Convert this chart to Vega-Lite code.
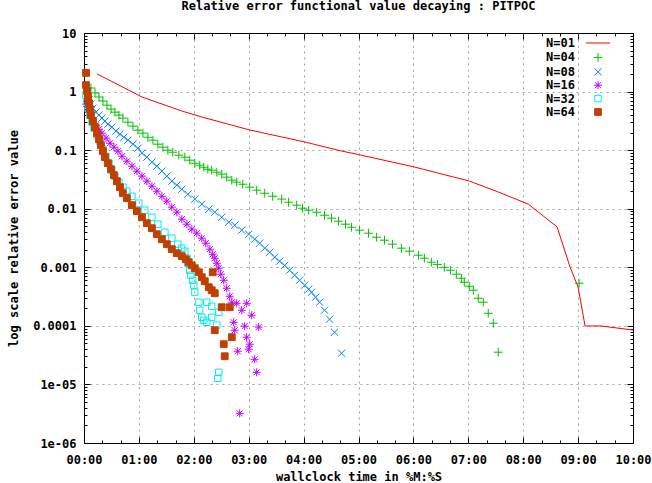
{
"$schema": "https://vega.github.io/schema/vega-lite/v6.json",
"width": 549, "height": 410,
"autosize": {"type": "none"},
"padding": {"left": 84, "top": 33, "right": 19, "bottom": 40},
"background": "white",
"title": {"text": "Relative error functional value decaying : PITPOC", "font": "DejaVu Sans Mono", "fontSize": 12, "fontWeight": "bold", "color": "black", "offset": 14, "anchor": "middle"},
"config": {
  "view": {"stroke": "black", "strokeWidth": 1},
  "axis": {"labelFont": "DejaVu Sans Mono", "labelFontWeight": "bold", "labelFontSize": 12, "labelColor": "black",
           "titleFont": "DejaVu Sans Mono", "titleFontWeight": "bold", "titleFontSize": 12, "titleColor": "black",
           "domain": false, "tickColor": "black", "tickWidth": 1, "gridColor": "#a0a0a0", "gridDash": [2, 4], "gridWidth": 1,
           "labelFlush": false, "labelOverlap": false, "labelBound": false}
},
"data": {"values": [
{"s":"N=01","t":14.2,"v":2.0},{"s":"N=01","t":33.8,"v":1.40},{"s":"N=01","t":63.3,"v":0.807},{"s":"N=01","t":106.9,"v":0.466},{"s":"N=01","t":128.7,"v":0.368},{"s":"N=01","t":181.1,"v":0.221},{"s":"N=01","t":216,"v":0.168},{"s":"N=01","t":241.1,"v":0.138},{"s":"N=01","t":281.5,"v":0.0966},{"s":"N=01","t":302.2,"v":0.0826},{"s":"N=01","t":361.1,"v":0.0515},{"s":"N=01","t":421.1,"v":0.0297},{"s":"N=01","t":452.7,"v":0.0193},{"s":"N=01","t":485.5,"v":0.0120},{"s":"N=01","t":517.1,"v":0.00487},{"s":"N=01","t":531.3,"v":0.001},{"s":"N=01","t":540,"v":0.00046},{"s":"N=01","t":547.6,"v":0.0000995},{"s":"N=01","t":565,"v":0.0000995},{"s":"N=01","t":600,"v":0.000085},
{"s":"N=04","t":7.6,"v":1.15},{"s":"N=04","t":12.0,"v":0.946},{"s":"N=04","t":16.4,"v":0.808},{"s":"N=04","t":20.7,"v":0.690},{"s":"N=04","t":25.1,"v":0.586},{"s":"N=04","t":29.5,"v":0.501},{"s":"N=04","t":33.8,"v":0.445},{"s":"N=04","t":38.2,"v":0.396},{"s":"N=04","t":42.5,"v":0.352},{"s":"N=04","t":48,"v":0.300},{"s":"N=04","t":53.5,"v":0.257},{"s":"N=04","t":58.9,"v":0.219},{"s":"N=04","t":64.4,"v":0.195},{"s":"N=04","t":69.8,"v":0.166},{"s":"N=04","t":75.3,"v":0.148},{"s":"N=04","t":80.7,"v":0.1265},{"s":"N=04","t":86.2,"v":0.1124},{"s":"N=04","t":91.6,"v":0.0998},{"s":"N=04","t":97,"v":0.0922},{"s":"N=04","t":103.6,"v":0.0820},{"s":"N=04","t":110.2,"v":0.0758},{"s":"N=04","t":115.6,"v":0.0674},{"s":"N=04","t":121.1,"v":0.0598},{"s":"N=04","t":126.5,"v":0.0553},{"s":"N=04","t":130.9,"v":0.0511},{"s":"N=04","t":135.3,"v":0.0473},{"s":"N=04","t":139.6,"v":0.0455},{"s":"N=04","t":145.1,"v":0.0420},{"s":"N=04","t":150.5,"v":0.0389},{"s":"N=04","t":156,"v":0.0346},{"s":"N=04","t":161.5,"v":0.0307},{"s":"N=04","t":166.9,"v":0.0284},{"s":"N=04","t":173.5,"v":0.0262},{"s":"N=04","t":181.1,"v":0.0233},{"s":"N=04","t":188.7,"v":0.0207},{"s":"N=04","t":197.5,"v":0.0184},{"s":"N=04","t":206.2,"v":0.0163},{"s":"N=04","t":216,"v":0.0146},{"s":"N=04","t":223.6,"v":0.0129},{"s":"N=04","t":232.4,"v":0.0115},{"s":"N=04","t":238.9,"v":0.0102},{"s":"N=04","t":245.5,"v":0.00944},{"s":"N=04","t":254.2,"v":0.00872},{"s":"N=04","t":262.9,"v":0.00775},{"s":"N=04","t":270.5,"v":0.00689},{"s":"N=04","t":278.2,"v":0.00612},{"s":"N=04","t":285.8,"v":0.00544},{"s":"N=04","t":292.4,"v":0.00483},{"s":"N=04","t":301.1,"v":0.00430},{"s":"N=04","t":310.9,"v":0.00382},{"s":"N=04","t":319.6,"v":0.00326},{"s":"N=04","t":328.4,"v":0.00290},{"s":"N=04","t":337.1,"v":0.00248},{"s":"N=04","t":346.9,"v":0.00212},{"s":"N=04","t":355.6,"v":0.00188},{"s":"N=04","t":365.5,"v":0.00161},{"s":"N=04","t":372,"v":0.00143},{"s":"N=04","t":379.6,"v":0.00122},{"s":"N=04","t":386.2,"v":0.00112},{"s":"N=04","t":393.8,"v":0.000998},{"s":"N=04","t":400.4,"v":0.000891},{"s":"N=04","t":406.9,"v":0.000761},{"s":"N=04","t":412.4,"v":0.000650},{"s":"N=04","t":415.6,"v":0.000555},{"s":"N=04","t":421.1,"v":0.000475},{"s":"N=04","t":425.5,"v":0.000406},{"s":"N=04","t":430.9,"v":0.000296},{"s":"N=04","t":436.4,"v":0.000253},{"s":"N=04","t":441.8,"v":0.000164},{"s":"N=04","t":447.3,"v":0.000111},{"s":"N=04","t":452.7,"v":0.0000355},{"s":"N=04","t":541.1,"v":0.000534},
{"s":"N=08","t":3.3,"v":0.874},{"s":"N=08","t":5.5,"v":0.718},{"s":"N=08","t":7.6,"v":0.610},{"s":"N=08","t":9.8,"v":0.521},{"s":"N=08","t":13.1,"v":0.445},{"s":"N=08","t":16.4,"v":0.396},{"s":"N=08","t":19.6,"v":0.352},{"s":"N=08","t":22.9,"v":0.312},{"s":"N=08","t":26.2,"v":0.278},{"s":"N=08","t":30.5,"v":0.247},{"s":"N=08","t":34.9,"v":0.211},{"s":"N=08","t":39.3,"v":0.187},{"s":"N=08","t":43.6,"v":0.166},{"s":"N=08","t":48,"v":0.148},{"s":"N=08","t":53.5,"v":0.1265},{"s":"N=08","t":58.9,"v":0.108},{"s":"N=08","t":63.3,"v":0.0887},{"s":"N=08","t":68.7,"v":0.0758},{"s":"N=08","t":74.2,"v":0.0623},{"s":"N=08","t":79.6,"v":0.0532},{"s":"N=08","t":85.1,"v":0.0438},{"s":"N=08","t":90.5,"v":0.0360},{"s":"N=08","t":96,"v":0.0295},{"s":"N=08","t":101.5,"v":0.0252},{"s":"N=08","t":106.9,"v":0.0215},{"s":"N=08","t":113.5,"v":0.0177},{"s":"N=08","t":121.1,"v":0.0146},{"s":"N=08","t":128.7,"v":0.0120},{"s":"N=08","t":136.4,"v":0.00982},{"s":"N=08","t":142.9,"v":0.00872},{"s":"N=08","t":150.5,"v":0.00716},{"s":"N=08","t":158.2,"v":0.00589},{"s":"N=08","t":164.7,"v":0.00523},{"s":"N=08","t":172.4,"v":0.00430},{"s":"N=08","t":180,"v":0.00367},{"s":"N=08","t":186.5,"v":0.00302},{"s":"N=08","t":192,"v":0.00258},{"s":"N=08","t":197.5,"v":0.00212},{"s":"N=08","t":203,"v":0.00181},{"s":"N=08","t":208.4,"v":0.00149},{"s":"N=08","t":213.8,"v":0.00127},{"s":"N=08","t":219.3,"v":0.00108},{"s":"N=08","t":224.7,"v":0.000891},{"s":"N=08","t":230.2,"v":0.000732},{"s":"N=08","t":235.6,"v":0.000601},{"s":"N=08","t":241.1,"v":0.000494},{"s":"N=08","t":245.5,"v":0.000422},{"s":"N=08","t":248.7,"v":0.000375},{"s":"N=08","t":253.1,"v":0.000308},{"s":"N=08","t":257.5,"v":0.000253},{"s":"N=08","t":262.9,"v":0.000185},{"s":"N=08","t":268.4,"v":0.000130},{"s":"N=08","t":273.8,"v":0.0000778},{"s":"N=08","t":281.5,"v":0.0000341},
{"s":"N=16","t":2.2,"v":0.610},{"s":"N=16","t":4.4,"v":0.482},{"s":"N=16","t":6.5,"v":0.396},{"s":"N=16","t":9.8,"v":0.325},{"s":"N=16","t":13.1,"v":0.267},{"s":"N=16","t":16.4,"v":0.228},{"s":"N=16","t":19.6,"v":0.195},{"s":"N=16","t":24,"v":0.160},{"s":"N=16","t":28.4,"v":0.1316},{"s":"N=16","t":32.7,"v":0.1124},{"s":"N=16","t":37.1,"v":0.0960},{"s":"N=16","t":41.5,"v":0.0788},{"s":"N=16","t":46.9,"v":0.0648},{"s":"N=16","t":52.4,"v":0.0532},{"s":"N=16","t":57.8,"v":0.0438},{"s":"N=16","t":63.3,"v":0.0360},{"s":"N=16","t":68.7,"v":0.0295},{"s":"N=16","t":74.2,"v":0.0242},{"s":"N=16","t":79.6,"v":0.0199},{"s":"N=16","t":85.1,"v":0.0163},{"s":"N=16","t":90.5,"v":0.01346},{"s":"N=16","t":96,"v":0.01063},{"s":"N=16","t":101.5,"v":0.00872},{"s":"N=16","t":106.9,"v":0.00662},{"s":"N=16","t":112.4,"v":0.00544},{"s":"N=16","t":117.8,"v":0.00447},{"s":"N=16","t":123.3,"v":0.00382},{"s":"N=16","t":128.7,"v":0.00314},{"s":"N=16","t":133.1,"v":0.00258},{"s":"N=16","t":137.5,"v":0.00204},{"s":"N=16","t":140.7,"v":0.00167},{"s":"N=16","t":142.9,"v":0.00143},{"s":"N=16","t":145.1,"v":0.00117},{"s":"N=16","t":147.3,"v":0.000964},{"s":"N=16","t":149.5,"v":0.000761},{"s":"N=16","t":152.7,"v":0.000601},{"s":"N=16","t":156,"v":0.000439},{"s":"N=16","t":159.3,"v":0.000320},{"s":"N=16","t":161.5,"v":0.000253},{"s":"N=16","t":166.9,"v":0.000243},{"s":"N=16","t":177.8,"v":0.000243},{"s":"N=16","t":172.4,"v":0.000185},{"s":"N=16","t":183.3,"v":0.000152},{"s":"N=16","t":163.6,"v":0.000115},{"s":"N=16","t":164.7,"v":0.0000842},{"s":"N=16","t":175.6,"v":0.0000990},{"s":"N=16","t":190.9,"v":0.0000952},{"s":"N=16","t":177.8,"v":0.0000640},{"s":"N=16","t":181.1,"v":0.0000486},{"s":"N=16","t":180,"v":0.0000399},{"s":"N=16","t":168,"v":0.0000369},{"s":"N=16","t":186.5,"v":0.0000269},{"s":"N=16","t":188.7,"v":0.0000161},{"s":"N=16","t":170.2,"v":0.00000321},
{"s":"N=32","t":2.2,"v":0.874},{"s":"N=32","t":3.3,"v":0.664},{"s":"N=32","t":4.4,"v":0.521},{"s":"N=32","t":6.5,"v":0.396},{"s":"N=32","t":8.7,"v":0.300},{"s":"N=32","t":10.9,"v":0.237},{"s":"N=32","t":14.2,"v":0.180},{"s":"N=32","t":17.5,"v":0.137},{"s":"N=32","t":20.7,"v":0.104},{"s":"N=32","t":24,"v":0.0788},{"s":"N=32","t":27.3,"v":0.0598},{"s":"N=32","t":30.5,"v":0.0455},{"s":"N=32","t":33.8,"v":0.0360},{"s":"N=32","t":38.2,"v":0.0284},{"s":"N=32","t":42.5,"v":0.0233},{"s":"N=32","t":46.9,"v":0.0199},{"s":"N=32","t":52.4,"v":0.0163},{"s":"N=32","t":60,"v":0.01244},{"s":"N=32","t":66.5,"v":0.00944},{"s":"N=32","t":74.2,"v":0.00716},{"s":"N=32","t":80.7,"v":0.00544},{"s":"N=32","t":88.4,"v":0.00397},{"s":"N=32","t":96,"v":0.00314},{"s":"N=32","t":102.5,"v":0.00248},{"s":"N=32","t":106.9,"v":0.00212},{"s":"N=32","t":110.2,"v":0.00188},{"s":"N=32","t":112.4,"v":0.00143},{"s":"N=32","t":113.5,"v":0.00117},{"s":"N=32","t":115.6,"v":0.000891},{"s":"N=32","t":116.7,"v":0.000732},{"s":"N=32","t":118.9,"v":0.000601},{"s":"N=32","t":120,"v":0.000494},{"s":"N=32","t":121.1,"v":0.000375},{"s":"N=32","t":125.5,"v":0.000253},{"s":"N=32","t":134.2,"v":0.000253},{"s":"N=32","t":139.6,"v":0.000216},{"s":"N=32","t":126.5,"v":0.000185},{"s":"N=32","t":128.7,"v":0.000140},{"s":"N=32","t":130.9,"v":0.000125},{"s":"N=32","t":134.2,"v":0.000115},{"s":"N=32","t":139.6,"v":0.000140},{"s":"N=32","t":147.3,"v":0.000171},{"s":"N=32","t":145.1,"v":0.000103},{"s":"N=32","t":147.3,"v":0.0000161},{"s":"N=32","t":146.2,"v":0.0000127},
{"s":"N=64","t":2.2,"v":2.08},{"s":"N=64","t":2.2,"v":1.29},{"s":"N=64","t":3.3,"v":1.02},{"s":"N=64","t":4.4,"v":0.808},{"s":"N=64","t":5.5,"v":0.634},{"s":"N=64","t":6.5,"v":0.501},{"s":"N=64","t":7.6,"v":0.396},{"s":"N=64","t":9.8,"v":0.312},{"s":"N=64","t":12,"v":0.247},{"s":"N=64","t":14.2,"v":0.195},{"s":"N=64","t":16.4,"v":0.154},{"s":"N=64","t":18.5,"v":0.1216},{"s":"N=64","t":20.7,"v":0.0960},{"s":"N=64","t":22.9,"v":0.0758},{"s":"N=64","t":26.2,"v":0.0598},{"s":"N=64","t":29.5,"v":0.0473},{"s":"N=64","t":32.7,"v":0.0374},{"s":"N=64","t":36,"v":0.0295},{"s":"N=64","t":39.3,"v":0.0233},{"s":"N=64","t":42.5,"v":0.0184},{"s":"N=64","t":46.9,"v":0.01515},{"s":"N=64","t":52.4,"v":0.0115},{"s":"N=64","t":57.8,"v":0.00908},{"s":"N=64","t":63.3,"v":0.00716},{"s":"N=64","t":68.7,"v":0.00566},{"s":"N=64","t":74.2,"v":0.00465},{"s":"N=64","t":79.6,"v":0.00367},{"s":"N=64","t":85.1,"v":0.00302},{"s":"N=64","t":90.5,"v":0.00248},{"s":"N=64","t":96,"v":0.00204},{"s":"N=64","t":101.5,"v":0.00174},{"s":"N=64","t":106.9,"v":0.00155},{"s":"N=64","t":111.3,"v":0.00137},{"s":"N=64","t":114.5,"v":0.00122},{"s":"N=64","t":117.8,"v":0.00108},{"s":"N=64","t":121.1,"v":0.000964},{"s":"N=64","t":125.5,"v":0.000823},{"s":"N=64","t":128.7,"v":0.000677},{"s":"N=64","t":132,"v":0.000578},{"s":"N=64","t":136.4,"v":0.000457},{"s":"N=64","t":139.6,"v":0.000406},{"s":"N=64","t":142.9,"v":0.000361},{"s":"N=64","t":140.7,"v":0.000823},{"s":"N=64","t":150.5,"v":0.000208},{"s":"N=64","t":159.3,"v":0.000208},{"s":"N=64","t":142.9,"v":0.0000842},{"s":"N=64","t":161.5,"v":0.0000640},{"s":"N=64","t":152.7,"v":0.0000486},{"s":"N=64","t":153.8,"v":0.0000303}
]},
"layer": [
  {
    "transform": [{"filter": "datum.s === 'N=01'"}],
    "mark": {"type": "line", "strokeWidth": 1},
    "encoding": {
      "x": {"field": "t", "type": "quantitative", "scale": {"domain": [0, 600], "nice": false, "zero": false},
            "axis": {"orient": "bottom", "title": "wallclock time in %M:%S", "titlePadding": 3,
                     "values": [0,20,40,60,80,100,120,140,160,180,200,220,240,260,280,300,320,340,360,380,400,420,440,460,480,500,520,540,560,580,600],
                     "labelExpr": "datum.value % 60 === 0 ? ((datum.value < 600 ? '0' : '') + (datum.value / 60) + ':00') : ''",
                     "labelPadding": 17.5,
                     "tickSize": {"condition": {"test": "datum.value % 60 === 0", "value": -6}, "value": -3},
                     "grid": true,
                     "gridOpacity": {"condition": {"test": "datum.value % 60 === 0 && datum.value > 0 && datum.value < 600", "value": 1}, "value": 0}}},
      "y": {"field": "v", "type": "quantitative", "scale": {"type": "log", "domain": [0.000001, 10], "nice": false},
            "axis": {"orient": "left", "title": "log scale relative error value", "titlePadding": 12,
                     "values": [1e-6,2e-6,3e-6,4e-6,5e-6,6e-6,7e-6,8e-6,9e-6,1e-5,2e-5,3e-5,4e-5,5e-5,6e-5,7e-5,8e-5,9e-5,1e-4,2e-4,3e-4,4e-4,5e-4,6e-4,7e-4,8e-4,9e-4,0.001,0.002,0.003,0.004,0.005,0.006,0.007,0.008,0.009,0.01,0.02,0.03,0.04,0.05,0.06,0.07,0.08,0.09,0.1,0.2,0.3,0.4,0.5,0.6,0.7,0.8,0.9,1,2,3,4,5,6,7,8,9,10],
                     "labelExpr": "abs(log(datum.value)/LN10 - round(log(datum.value)/LN10)) > 0.01 ? '' : datum.value > 5 ? '10' : datum.value > 0.5 ? '1' : datum.value > 0.05 ? '0.1' : datum.value > 0.005 ? '0.01' : datum.value > 0.0005 ? '0.001' : datum.value > 0.00005 ? '0.0001' : datum.value > 0.000005 ? '1e-05' : '1e-06'",
                     "labelPadding": 14,
                     "tickSize": {"condition": {"test": "abs(log(datum.value)/LN10 - round(log(datum.value)/LN10)) < 0.01", "value": -6}, "value": -3},
                     "grid": true,
                     "gridOpacity": {"condition": {"test": "abs(log(datum.value)/LN10 - round(log(datum.value)/LN10)) < 0.01 && datum.value > 0.000002 && datum.value < 5", "value": 1}, "value": 0}}},
      "color": {"field": "s", "type": "nominal",
                "scale": {"domain": ["N=01","N=04","N=08","N=16","N=32","N=64"], "range": ["#ff0000","#00c000","#0080ff","#c000ff","#00eeee","#c04000"]},
                "legend": {"orient": "none", "legendX": 508, "legendY": 4, "title": null, "padding": 0, "rowPadding": 1.4,
                           "labelAlign": "right", "labelOffset": -29, "labelFont": "DejaVu Sans Mono", "labelFontWeight": "bold", "labelFontSize": 12, "labelColor": "black",
                           "symbolSize": 64, "symbolStrokeWidth": 1,
                           "encode": {"symbols": {"update": {"fill": {"signal": "datum.value === 'N=64' ? '#c04000' : 'transparent'"}, "stroke": {"scale": "color", "field": "value"}, "strokeWidth": {"value": 1}, "opacity": {"value": 1}}}}}}
    }
  },
  {
    "transform": [{"filter": "datum.s !== 'N=01'"}],
    "mark": {"type": "point", "filled": false, "size": 64, "strokeWidth": 1, "opacity": 1},
    "encoding": {
      "x": {"field": "t", "type": "quantitative", "axis": null},
      "y": {"field": "v", "type": "quantitative", "axis": null},
      "color": {"field": "s", "type": "nominal",
                "legend": {"orient": "none", "legendX": 508, "legendY": 4, "title": null, "padding": 0, "rowPadding": 1.4,
                           "labelAlign": "right", "labelOffset": -29, "labelFont": "DejaVu Sans Mono", "labelFontWeight": "bold", "labelFontSize": 12, "labelColor": "black",
                           "symbolSize": 64, "symbolStrokeWidth": 1,
                           "encode": {"symbols": {"update": {"fill": {"signal": "datum.value === 'N=64' ? '#c04000' : 'transparent'"}, "stroke": {"scale": "color", "field": "value"}, "strokeWidth": {"value": 1}, "opacity": {"value": 1}}}}}},
      "shape": {"field": "s", "type": "nominal",
                "scale": {"domain": ["N=01","N=04","N=08","N=16","N=32","N=64"], "range": ["M-3,0H3", "M-1.1,0H1.1M0,-1.1V1.1", "M-0.9,-0.9L0.9,0.9M-0.9,0.9L0.9,-0.9", "M-1,0H1M0,-1V1M-0.75,-0.75L0.75,0.75M-0.75,0.75L0.75,-0.75", "M-0.8,-0.8H0.8V0.8H-0.8Z", "M-0.85,-0.85H0.85V0.85H-0.85Z"]},
                "legend": {"orient": "none", "legendX": 508, "legendY": 4, "title": null, "padding": 0, "rowPadding": 1.4,
                           "labelAlign": "right", "labelOffset": -29, "labelFont": "DejaVu Sans Mono", "labelFontWeight": "bold", "labelFontSize": 12, "labelColor": "black",
                           "symbolSize": 64, "symbolStrokeWidth": 1,
                           "encode": {"symbols": {"update": {"fill": {"signal": "datum.value === 'N=64' ? '#c04000' : 'transparent'"}, "stroke": {"scale": "color", "field": "value"}, "strokeWidth": {"value": 1}, "opacity": {"value": 1}}}}}},
      "fill": {"field": "s", "type": "nominal", "legend": null,
               "scale": {"domain": ["N=04","N=08","N=16","N=32","N=64"], "range": ["transparent","transparent","transparent","transparent","#c04000"]}}
    }
  },
  {
    "mark": {"type": "point", "opacity": 0},
    "encoding": {
      "x": {"field": "t", "type": "quantitative",
            "axis": {"orient": "top", "title": null, "labels": false, "grid": false,
                     "values": [0,20,40,60,80,100,120,140,160,180,200,220,240,260,280,300,320,340,360,380,400,420,440,460,480,500,520,540,560,580,600],
                     "tickSize": {"condition": {"test": "datum.value % 60 === 0", "value": -6}, "value": -3}}},
      "y": {"field": "v", "type": "quantitative",
            "axis": {"orient": "right", "title": null, "labels": false, "grid": false,
                     "values": [1e-6,2e-6,3e-6,4e-6,5e-6,6e-6,7e-6,8e-6,9e-6,1e-5,2e-5,3e-5,4e-5,5e-5,6e-5,7e-5,8e-5,9e-5,1e-4,2e-4,3e-4,4e-4,5e-4,6e-4,7e-4,8e-4,9e-4,0.001,0.002,0.003,0.004,0.005,0.006,0.007,0.008,0.009,0.01,0.02,0.03,0.04,0.05,0.06,0.07,0.08,0.09,0.1,0.2,0.3,0.4,0.5,0.6,0.7,0.8,0.9,1,2,3,4,5,6,7,8,9,10],
                     "tickSize": {"condition": {"test": "abs(log(datum.value)/LN10 - round(log(datum.value)/LN10)) < 0.01", "value": -6}, "value": -3}}}
    }
  }
],
"resolve": {"axis": {"x": "independent", "y": "independent"}}
}
